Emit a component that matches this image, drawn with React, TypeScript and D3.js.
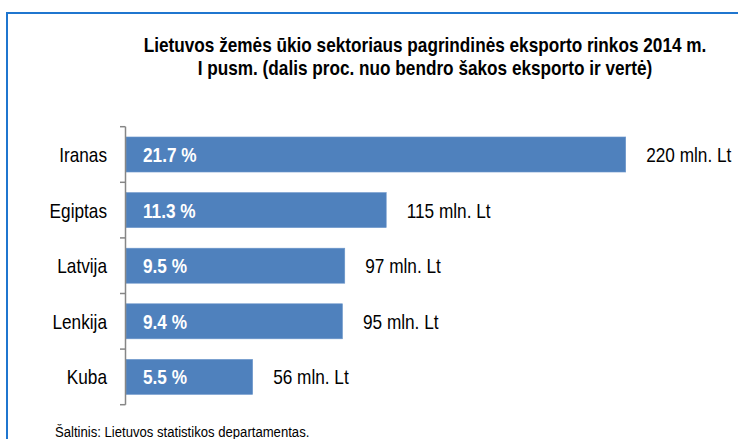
import React from "react";
import * as d3 from "d3";

const categories = ["Iranas", "Egiptas", "Latvija", "Lenkija", "Kuba"];
const shares = [21.7, 11.3, 9.5, 9.4, 5.5];
const shareLabels = ["21.7 %", "11.3 %", "9.5 %", "9.4 %", "5.5 %"];
const valueLabels = ["220 mln. Lt", "115 mln. Lt", "97 mln. Lt", "95 mln. Lt", "56 mln. Lt"];
const titleLines = [
  "Lietuvos žemės ūkio sektoriaus pagrindinės eksporto rinkos 2014 m.",
  "I pusm. (dalis proc. nuo bendro šakos eksporto ir vertė)",
];
const sourceText = "Šaltinis: Lietuvos statistikos departamentas.";

const W = 738;
const H = 439;
const FONT = "'Liberation Sans', Arial, sans-serif";

function T(props: {
  x: number;
  y: number;
  sx?: number;
  size: number;
  bold?: boolean;
  anchor?: "start" | "middle" | "end";
  fill?: string;
  dy?: string;
  children: React.ReactNode;
}) {
  const { x, y, sx = 0.82, size, bold, anchor = "start", fill = "#000", dy, children } = props;
  return (
    <g transform={`translate(${x},${y}) scale(${sx},1)`}>
      <text
        x={0}
        y={0}
        dy={dy}
        textAnchor={anchor}
        fontFamily={FONT}
        fontWeight={bold ? "bold" : "normal"}
        fontSize={size}
        fill={fill}
      >
        {children}
      </text>
    </g>
  );
}

export default function App() {
  const axisX = 125.5;
  const x = d3.scaleLinear().domain([0, 21.7]).range([126, 625.7]);
  const y = d3
    .scaleBand<string>()
    .domain(categories)
    .range([126.7, 404.7])
    .paddingInner(0.37)
    .paddingOuter(0.185);
  const step = y.step();
  const tickYs = d3.range(categories.length + 1).map((i) => 126.7 + i * step);

  return (
    <svg width={W} height={H} style={{ position: "absolute", left: 0, top: 0, background: "#fff" }}>
      <rect x={7} y={13} width={W + 20} height={H + 20} fill="none" stroke="#1f76cf" strokeWidth={2} />
      {titleLines.map((t, i) => (
        <T key={i} x={425} y={52.3 + i * 23} sx={0.86} size={20} bold anchor="middle">
          {t}
        </T>
      ))}
      {categories.map((c, i) => {
        const cy = (y(c) as number) + y.bandwidth() / 2;
        return (
          <g key={c}>
            <rect
              x={x(0)}
              y={y(c)}
              width={x(shares[i]) - x(0)}
              height={y.bandwidth()}
              fill="#4f81bd"
              stroke="#6d97cb"
              strokeWidth={0.6}
            />
            <T x={107} y={cy} size={21} anchor="end" dy="0.36em">
              {c}
            </T>
            <T x={143} y={cy} size={21} bold fill="#fff" dy="0.36em">
              {shareLabels[i]}
            </T>
            <T x={x(shares[i]) + 20.5} y={cy} size={21} dy="0.36em">
              {valueLabels[i]}
            </T>
          </g>
        );
      })}
      <line
        x1={axisX}
        x2={axisX}
        y1={tickYs[0]}
        y2={tickYs[tickYs.length - 1]}
        stroke="#868686"
        strokeWidth={1.5}
      />
      {tickYs.map((ty, i) => (
        <line key={i} x1={120} x2={axisX} y1={ty} y2={ty} stroke="#868686" strokeWidth={1.5} />
      ))}
      <T x={55} y={436.5} size={15} sx={0.875}>
        {sourceText}
      </T>
    </svg>
  );
}
